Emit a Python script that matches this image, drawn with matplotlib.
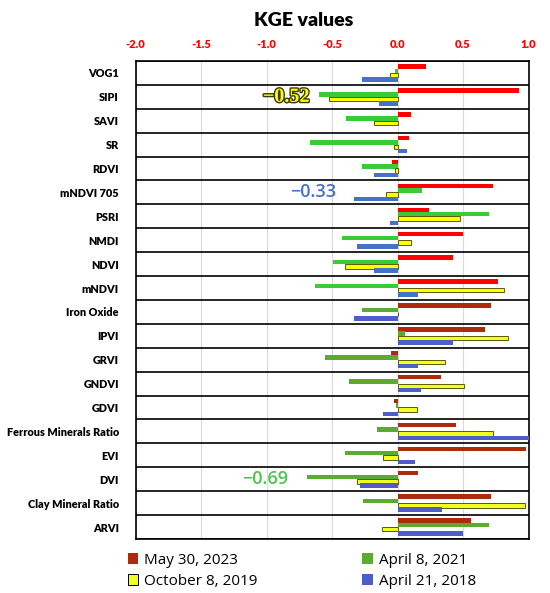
import numpy as np
from matplotlib import pyplot as plt
from matplotlib.patches import Patch
import matplotlib.patheffects as pe

categories = ['VOG1', 'SIPI', 'SAVI', 'SR', 'RDVI', 'mNDVI 705', 'PSRI', 'NMDI',
              'NDVI', 'mNDVI', 'Iron Oxide', 'IPVI', 'GRVI', 'GNDVI', 'GDVI',
              'Ferrous Minerals Ratio', 'EVI', 'DVI', 'Clay Mineral Ratio', 'ARVI']

may2023 = [0.22, 0.93, 0.10, 0.09, -0.04, 0.73, 0.24, 0.50, 0.42, 0.77,
           0.71, 0.67, -0.05, 0.33, -0.03, 0.45, 0.98, 0.16, 0.71, 0.56]
apr2021 = [-0.02, -0.60, -0.39, -0.67, -0.27, 0.19, 0.70, -0.42, -0.49, -0.63,
           -0.27, 0.06, -0.55, -0.37, -0.01, -0.16, -0.40, -0.69, -0.26, 0.70]
oct2019 = [-0.06, -0.52, -0.18, -0.03, -0.02, -0.09, 0.48, 0.10, -0.40, 0.81,
           0.0, 0.84, 0.36, 0.51, 0.15, 0.73, -0.11, -0.31, 0.97, -0.12]
apr2018 = [-0.27, -0.14, 0.0, 0.07, -0.18, -0.33, -0.06, -0.31, -0.18, 0.16,
           -0.33, 0.42, 0.16, 0.18, -0.11, 1.0, 0.13, -0.29, 0.34, 0.50]

series = [may2023, apr2021, oct2019, apr2018]
labels = ['May 30, 2023', 'April 8, 2021', 'October 8, 2019', 'April 21, 2018']
xticks = [-2.0, -1.5, -1.0, -0.5, 0.0, 0.5, 1.0]

# callouts: (text, row, value)
notes = [('\u22120.52', 'SIPI', -0.52), ('\u22120.33', 'mNDVI 705', -0.33),
         ('\u22120.69', 'DVI', -0.69)]

# upper half uses bright colours, lower half darker ones (as in the source image)
bright = ['#FF0000', '#38CC38', '#FFFF00', '#4472C4']
dark = ['#AE2A0C', '#5CAA30', '#F2FF1E', '#4E5EC8']
legend_cols = ['#AE2A0C', '#5CAA30', '#F2FF1E', '#4E5EC8']

fig = plt.figure(figsize=(5.5, 5.93), dpi=100)
ax = fig.add_axes([135.5/550, 1-539/593, 393/550, 478/593])

n = len(categories)
y = np.arange(n)
offs = [-0.27, -0.09, 0.09, 0.27]
h = 0.185
for k, vals in enumerate(series):
    cols = [bright[k] if i < 10 else dark[k] for i in range(n)]
    ec = '#5a5a00' if k == 2 else 'none'
    lw = 0.7 if k == 2 else 0
    ax.barh(y + offs[k], vals, height=h, color=cols, edgecolor=ec, linewidth=lw, zorder=3)

ax.set_xlim(-2.0, 1.0)
ax.set_ylim(n - 0.5, -0.5)
ax.set_yticks(y)
ax.set_yticklabels(categories, fontsize=7.8, fontweight='heavy', family='Lato')
ax.tick_params(axis='y', length=0, pad=12)
ax.xaxis.tick_top()
ax.set_xticks(xticks)
ax.set_xticklabels(['%.1f' % t for t in xticks], color='red', fontsize=8,
                   fontweight='heavy', family='Lato')
ax.tick_params(axis='x', length=0, pad=8)
ax.grid(axis='x', color='#DADADA', linewidth=0.8, zorder=0)
for b in np.arange(n + 1) - 0.5:
    ax.axhline(b, color='black', linewidth=1.2, zorder=4)
for s in ax.spines.values():
    s.set_linewidth(1.2)

idx = {c: i for i, c in enumerate(categories)}
t = ax.text(-0.85, idx['SIPI'], notes[0][0], ha='center', va='center', fontsize=14.5,
            fontweight='bold', family='Liberation Serif', color='#FFFF00', zorder=5)
t.set_path_effects([pe.withStroke(linewidth=2, foreground='#3a3a00')])
ax.text(-0.64, idx['mNDVI 705'], notes[1][0], ha='center', va='center', fontsize=13,
        family='Open Sans', fontweight='semibold', color='#4472C4', zorder=5)
ax.text(-1.01, idx['DVI'], notes[2][0], ha='center', va='center', fontsize=13,
        family='Open Sans', fontweight='semibold', color='#4CC44C', zorder=5)

fig.text(304/550, 1-20/593, 'KGE values', ha='center', va='center', fontsize=14,
         fontweight='heavy', family='Lato')

handles = [Patch(facecolor=legend_cols[i], edgecolor='black' if i == 2 else 'none',
                 linewidth=0.7) for i in range(4)]
order = [0, 2, 1, 3]
fig.legend([handles[i] for i in order], [labels[i] for i in order], ncol=2,
           loc='upper left', bbox_to_anchor=(120/550, 1-545/593), frameon=False,
           prop={'family': 'Open Sans', 'size': 11}, handlelength=0.7,
           handleheight=0.7, handletextpad=0.4, columnspacing=6.8,
           labelspacing=0.4, borderpad=0)

fig.savefig('out.png', dpi=100)
